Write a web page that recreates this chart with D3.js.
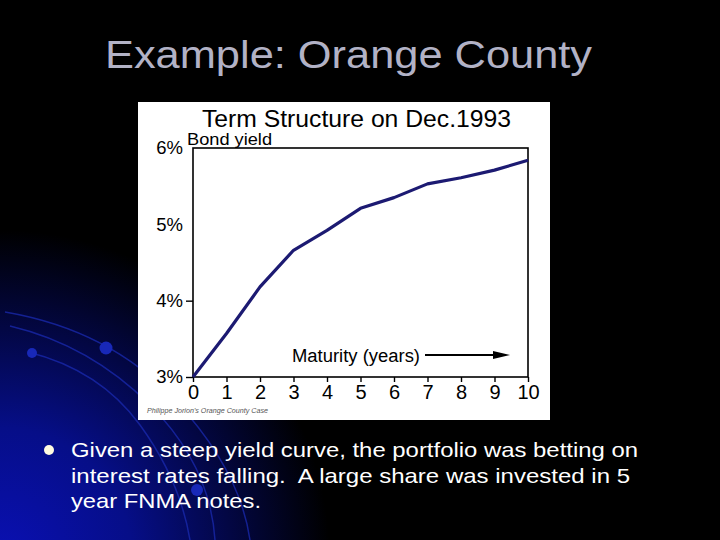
<!DOCTYPE html>
<html>
<head>
<meta charset="utf-8">
<script src="https://cdn.jsdelivr.net/npm/d3@7"></script>
<style>
  html, body { margin: 0; padding: 0; background: #000; }
  svg { display: block; font-family: "Liberation Sans", Arial, sans-serif; }
</style>
</head>
<body>
<svg id="slide" width="720" height="540"></svg>
<script>
// data
var maturity = [0, 1, 2, 3, 4, 5, 6, 7, 8, 9, 10];
var yields = [3.0, 3.57, 4.18, 4.66, 4.92, 5.21, 5.35, 5.53, 5.61, 5.71, 5.84];
var yTicks = [3, 4, 5, 6];
var bulletLines = [
  "Given a steep yield curve, the portfolio was betting on",
  "interest rates falling.  A large share was invested in 5",
  "year FNMA notes."
];
var bulletWidths = [567, 559, 190];

var svg = d3.select("#slide");

// background: black with blue glow bottom left
var defs = svg.append("defs");
var rg = defs.append("radialGradient").attr("id", "glow")
    .attr("gradientUnits", "userSpaceOnUse")
    .attr("cx", 0).attr("cy", 560).attr("r", 330);
rg.append("stop").attr("offset", "0%").attr("stop-color", "#0a10b4");
rg.append("stop").attr("offset", "40%").attr("stop-color", "#060e88");
rg.append("stop").attr("offset", "100%").attr("stop-color", "#000000");
svg.append("rect").attr("width", 720).attr("height", 540).attr("fill", "#000");
svg.append("rect").attr("width", 720).attr("height", 540).attr("fill", "url(#glow)");

var swoosh = svg.append("g").attr("fill", "none").attr("stroke", "#1a2ab0").attr("stroke-width", 1.5).attr("opacity", 0.75);
swoosh.append("path").attr("d", "M5,312 Q110,330 175,400 T250,540");
swoosh.append("path").attr("d", "M10,326 Q90,345 150,405 T215,540");
swoosh.append("path").attr("d", "M28,352 Q100,370 140,425 T190,540");
var blobs = svg.append("g").attr("fill", "#1828b8");
blobs.append("circle").attr("cx", 106).attr("cy", 348).attr("r", 6.5);
blobs.append("circle").attr("cx", 32).attr("cy", 353).attr("r", 5);
blobs.append("circle").attr("cx", 197).attr("cy", 490).attr("r", 6);

// slide title (slide is stretched horizontally)
svg.append("text")
    .attr("x", 105).attr("y", 68)
    .attr("font-size", 38)
    .attr("fill", "#b2b2c6")
    .attr("textLength", 487)
    .attr("lengthAdjust", "spacingAndGlyphs")
    .text("Example: Orange County");

// chart panel
svg.append("rect")
    .attr("x", 138).attr("y", 102).attr("width", 412).attr("height", 318)
    .attr("fill", "#fff");

var x = d3.scaleLinear().domain([0, 10]).range([193, 528]);
var y = d3.scaleLinear().domain([3, 6]).range([377, 148]);

var chart = svg.append("g");

chart.append("text")
    .attr("x", 202).attr("y", 127)
    .attr("font-size", 23)
    .attr("fill", "#000")
    .attr("textLength", 309)
    .attr("lengthAdjust", "spacingAndGlyphs")
    .text("Term Structure on Dec.1993");

chart.append("text")
    .attr("x", 187).attr("y", 145)
    .attr("font-size", 16)
    .attr("textLength", 85)
    .attr("lengthAdjust", "spacingAndGlyphs")
    .text("Bond yield");

// frame
chart.append("rect")
    .attr("x", x(0)).attr("y", y(6))
    .attr("width", x(10) - x(0)).attr("height", y(3) - y(6))
    .attr("fill", "none").attr("stroke", "#000").attr("stroke-width", 1.6);

var xAxis = d3.axisBottom(x).tickValues(maturity).tickSize(5).tickPadding(3).tickFormat(d3.format("d"));
var gx = chart.append("g").attr("transform", "translate(0," + y(3) + ")").call(xAxis);
gx.select(".domain").remove();
gx.selectAll("line").attr("stroke", "#000").attr("stroke-width", 1.4);
gx.selectAll("text").attr("font-size", 20).attr("font-family", "Liberation Sans, Arial, sans-serif").attr("fill", "#000");

var yAxis = d3.axisLeft(y).tickValues(yTicks).tickSize(7).tickPadding(3).tickFormat(function(d) { return d + "%"; });
var gy = chart.append("g").attr("transform", "translate(" + x(0) + ",0)").call(yAxis);
gy.select(".domain").remove();
gy.selectAll(".tick line").attr("stroke", "#000").attr("stroke-width", 1.4)
    .attr("opacity", function(d) { return d >= 5 ? 0 : 1; });
gy.selectAll("text").attr("font-size", 18.5).attr("font-family", "Liberation Sans, Arial, sans-serif").attr("fill", "#000");

// curve
var line = d3.line()
    .x(function(d, i) { return x(maturity[i]); })
    .y(function(d) { return y(d); });
chart.append("path")
    .datum(yields)
    .attr("d", line)
    .attr("fill", "none")
    .attr("stroke", "#1c1a72")
    .attr("stroke-width", 3.2)
    .attr("stroke-linejoin", "round");

// maturity arrow label
chart.append("text")
    .attr("x", 292).attr("y", 362)
    .attr("font-size", 18)
    .attr("textLength", 128)
    .attr("lengthAdjust", "spacingAndGlyphs")
    .text("Maturity (years)");
chart.append("line")
    .attr("x1", 425).attr("x2", 496).attr("y1", 355).attr("y2", 355)
    .attr("stroke", "#000").attr("stroke-width", 2);
chart.append("path")
    .attr("d", "M493,351 L510,355 L493,359 Z")
    .attr("fill", "#000");

chart.append("text")
    .attr("x", 147).attr("y", 413)
    .attr("font-size", 7)
    .attr("font-style", "italic")
    .attr("fill", "#555")
    .attr("textLength", 121)
    .attr("lengthAdjust", "spacingAndGlyphs")
    .text("Philippe Jorion's Orange County Case");

// bullet
svg.append("circle").attr("cx", 49).attr("cy", 450).attr("r", 5).attr("fill", "#fffbe0");
svg.append("g").selectAll("text")
    .data(bulletLines)
    .enter().append("text")
    .attr("x", 71)
    .attr("y", function(d, i) { return 457 + i * 25.5; })
    .attr("font-size", 21)
    .attr("fill", "#fff")
    .attr("textLength", function(d, i) { return bulletWidths[i]; })
    .attr("lengthAdjust", "spacingAndGlyphs")
    .style("white-space", "pre")
    .text(function(d) { return d; });
</script>
</body>
</html>
